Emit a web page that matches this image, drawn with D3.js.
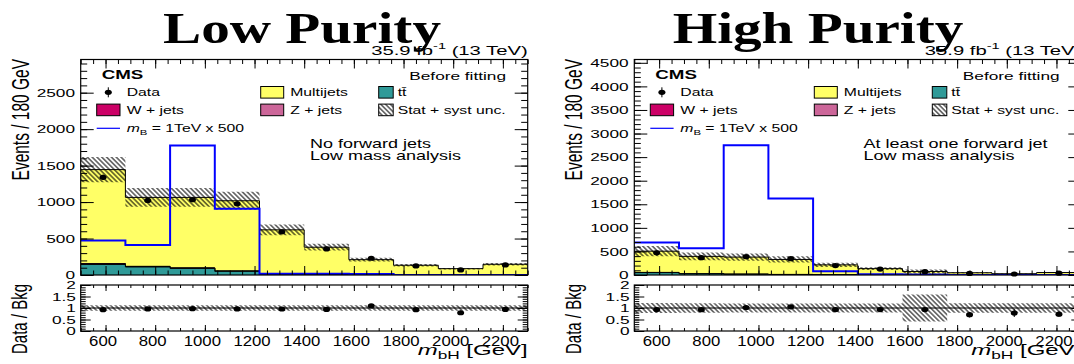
<!DOCTYPE html>
<html>
<head>
<meta charset="utf-8">
<script src="https://cdn.jsdelivr.net/npm/d3@7"></script>
<style>
  html, body { margin: 0; padding: 0; background: #fff; }
  svg { display: block; }
  text { font-family: "Liberation Sans", Arial, Helvetica, sans-serif; fill: #000; }
</style>
</head>
<body>
<svg id="chart" width="1074" height="364"></svg>
<script>
// ---- binning (m_bH, GeV) ----
const binEdges = [500, 680, 860, 1040, 1220, 1400, 1580, 1760, 1940, 2120, 2300];
const xTickValues = [600, 800, 1000, 1200, 1400, 1600, 1800, 2000, 2200];
const ratioTickValues = [0, 0.5, 1, 1.5, 2];

// ---- Low purity: no forward jets ----
const lpData      = [1339, 1023, 1032, 977, 592, 358, 230, 124, 69, 138];
const lpMultijets = [1288, 945, 966, 962, 602, 372, 205, 130, 85, 145];
const lpTtbar     = [145, 110, 90, 50, 12, 6, 3, 2, 1, 1];
const lpWjets     = [8, 6, 5, 4, 3, 2, 1, 1, 0.5, 0.5];
const lpZjets     = [4, 3, 3, 2, 2, 1, 1, 0.5, 0.5, 0.5];
const lpUnc       = [173, 128, 128, 122, 74, 46, 25, 16, 10, 18];
const lpSignal    = [472, 413, 1775, 908, 18, 16, 14, 1, 1, 1];
const lpYTicks    = [0, 500, 1000, 1500, 2000, 2500];

// ---- High purity: at least one forward jet ----
const hpData      = [470, 367, 388, 347, 200, 126, 70, 34, 21, 38];
const hpMultijets = [450, 367, 362, 318, 208.5, 130.5, 72.2, 46.2, 25.5, 50.5];
const hpTtbar     = [50, 25, 15, 10, 5, 3, 2, 1, 1, 1];
const hpWjets     = [3, 2, 2, 1, 1, 1, 0.5, 0.5, 0.3, 0.3];
const hpZjets     = [2, 1, 1, 1, 0.5, 0.5, 0.3, 0.3, 0.2, 0.2];
const hpUnc       = [110, 80, 76, 66, 43, 27, 44, 10, 5.5, 10.5];
const hpSignal    = [688, 567, 2752, 1624, 78, 15, 8, 1, 1, 1];
const hpYTicks    = [0, 500, 1000, 1500, 2000, 2500, 3000, 3500, 4000, 4500];

// ---- layout ----
const PLOT_W = 447;
const MAIN_TOP = 59.5, MAIN_BOTTOM = 275;
const RATIO_TOP = 285, RATIO_BOTTOM = 331;
const SX = 1.5;   // horizontal text stretch

const COLORS = {
  multijets: "#ffff66",
  ttbar: "#2f9a98",
  wjets: "#cc0066",
  zjets: "#cc6699",
  signal: "#0000ff"
};

const svg = d3.select("#chart");
const defs = svg.append("defs");
const hatch = defs.append("pattern")
  .attr("id", "hatch")
  .attr("patternUnits", "userSpaceOnUse")
  .attr("width", 3.4).attr("height", 3.4)
  .attr("patternTransform", "rotate(-45)");
hatch.append("line")
  .attr("x1", 1.7).attr("y1", 0).attr("x2", 1.7).attr("y2", 3.4)
  .attr("stroke", "#000").attr("stroke-width", 1);

// text with a horizontal stretch; parts may carry italic / sub / sup
function txt(g, x, y, parts, o) {
  const size = o.size;
  const sx = o.sx !== undefined ? o.sx : SX;
  const t = g.append("text")
    .attr("transform", `translate(${x},${y}) scale(${sx},1)` + (o.rot ? ` rotate(${o.rot})` : ""))
    .attr("text-anchor", o.anchor || "start")
    .style("font-size", size + "px");
  if (o.family) t.style("font-family", o.family);
  if (o.bold) t.style("font-weight", "bold");
  if (typeof parts === "string") parts = [{ t: parts }];
  let shift = 0;
  parts.forEach(p => {
    const s = t.append("tspan").text(p.t);
    const target = p.sub ? 0.28 * size : p.sup ? -0.42 * size : 0;
    if (target !== shift) { s.attr("dy", target - shift); shift = target; }
    if (p.sub || p.sup) s.style("font-size", (size * 0.72) + "px");
    if (p.italic) s.style("font-style", "italic");
  });
  return t;
}

function styleAxis(sel) {
  sel.select(".domain").remove();
  sel.attr("font-size", null).attr("font-family", null);
  sel.selectAll(".tick line").attr("stroke", "#000").attr("stroke-width", 1);
}

function drawPanel(p) {
  const g = svg.append("g");
  const X0 = p.left, X1 = p.left + PLOT_W;
  const nb = binEdges.length - 1;
  const x = d3.scaleLinear().domain([binEdges[0], binEdges[nb]]).range([X0, X1]);
  const y = d3.scaleLinear().domain([0, p.ymax]).range([MAIN_BOTTOM, MAIN_TOP]);
  const yr = d3.scaleLinear().domain([0, 2]).range([RATIO_BOTTOM, RATIO_TOP]);
  const centers = d3.range(nb).map(i => (binEdges[i] + binEdges[i + 1]) / 2);

  const clipId = "clip-" + p.key;
  defs.append("clipPath").attr("id", clipId).append("rect")
    .attr("x", X0).attr("y", MAIN_TOP).attr("width", PLOT_W).attr("height", MAIN_BOTTOM - MAIN_TOP);
  const rclipId = "rclip-" + p.key;
  defs.append("clipPath").attr("id", rclipId).append("rect")
    .attr("x", X0).attr("y", RATIO_TOP).attr("width", PLOT_W).attr("height", RATIO_BOTTOM - RATIO_TOP);

  const steps = vals => binEdges.map((e, i) => [e, vals[Math.min(i, nb - 1)]]);

  // ---- stacked backgrounds (bottom to top: ttbar, W, Z, multijets) ----
  const layers = [
    { vals: p.ttbar, color: COLORS.ttbar },
    { vals: p.wjets, color: COLORS.wjets },
    { vals: p.zjets, color: COLORS.zjets },
    { vals: p.multijets, color: COLORS.multijets }
  ];
  let cum = new Array(nb).fill(0);
  layers.forEach(l => { cum = cum.map((c, i) => c + l.vals[i]); l.cum = cum.slice(); });
  const total = cum;

  const plot = g.append("g").attr("clip-path", `url(#${clipId})`);
  const area = d3.area().curve(d3.curveStepAfter)
    .x(d => x(d[0])).y0(y(0)).y1(d => y(d[1]));
  const line = d3.line().curve(d3.curveStepAfter)
    .x(d => x(d[0])).y(d => y(d[1]));

  layers.slice().reverse().forEach(l => {
    plot.append("path").attr("d", area(steps(l.cum))).attr("fill", l.color);
    plot.append("path").attr("d", line(steps(l.cum)))
      .attr("fill", "none").attr("stroke", "#000").attr("stroke-width", 1);
  });

  // ---- stat + syst uncertainty band ----
  const band = d3.area().curve(d3.curveStepAfter)
    .x(d => x(d[0])).y0(d => y(d[1] - d[2])).y1(d => y(d[1] + d[2]));
  const bandPts = binEdges.map((e, i) => { const k = Math.min(i, nb - 1); return [e, total[k], p.unc[k]]; });
  plot.append("path").attr("d", band(bandPts)).attr("fill", "url(#hatch)");

  // ---- signal ----
  plot.append("path").attr("d", line(steps(p.signal)))
    .attr("fill", "none").attr("stroke", COLORS.signal).attr("stroke-width", 2);

  // ---- data ----
  const dg = g.append("g");
  p.data.forEach((v, i) => {
    const cx = x(centers[i]), e = Math.sqrt(v);
    dg.append("line").attr("x1", cx).attr("x2", cx).attr("y1", y(v - e)).attr("y2", y(v + e))
      .attr("stroke", "#000").attr("stroke-width", 1);
    dg.append("ellipse").attr("cx", cx).attr("cy", y(v)).attr("rx", 3.5).attr("ry", 2.6).attr("fill", "#000");
  });

  // ---- ratio panel ----
  const rg = g.append("g");
  const rplot = rg.append("g").attr("clip-path", `url(#${rclipId})`);
  const rband = d3.area().curve(d3.curveStepAfter)
    .x(d => x(d[0])).y0(d => yr(1 - d[2] / d[1])).y1(d => yr(1 + d[2] / d[1]));
  rplot.append("path").attr("d", rband(bandPts)).attr("fill", "url(#hatch)");
  rplot.append("line").attr("x1", X0).attr("x2", X1).attr("y1", yr(1)).attr("y2", yr(1))
    .attr("stroke", "#000").attr("stroke-width", 1);
  p.data.forEach((v, i) => {
    const cx = x(centers[i]);
    const r = v / total[i], e = Math.sqrt(v) / total[i];
    rplot.append("line").attr("x1", cx).attr("x2", cx).attr("y1", yr(r - e)).attr("y2", yr(r + e))
      .attr("stroke", "#000").attr("stroke-width", 1);
    rplot.append("ellipse").attr("cx", cx).attr("cy", yr(r)).attr("rx", 3.5).attr("ry", 2.6).attr("fill", "#000");
  });

  // ---- axes (ticks drawn inward on all four sides) ----
  const xMinor = d3.range(binEdges[0], binEdges[nb] + 1, 50);
  const yMinor = d3.range(0, p.ymax, 100);
  const rMinor = d3.range(0, 2.001, 0.1).map(v => +v.toFixed(2));
  const ax = g.append("g");

  const addAxis = (axis, tx, ty) => ax.append("g").attr("transform", `translate(${tx},${ty})`).call(axis).call(styleAxis);

  // main y
  addAxis(d3.axisLeft(y).tickValues(yMinor).tickSize(-6.5).tickSizeOuter(0).tickFormat(""), X0, 0);
  const yl = addAxis(d3.axisLeft(y).tickValues(p.yTicks).tickSize(-13).tickSizeOuter(0).tickPadding(3.8).tickFormat(d3.format("d")), X0, 0);
  yl.selectAll("text").attr("transform", `scale(${SX},1)`).style("font-size", "11.5px");
  addAxis(d3.axisRight(y).tickValues(yMinor).tickSize(-6.5).tickSizeOuter(0).tickFormat(""), X1, 0);
  addAxis(d3.axisRight(y).tickValues(p.yTicks).tickSize(-13).tickSizeOuter(0).tickFormat(""), X1, 0);
  // main x
  addAxis(d3.axisTop(x).tickValues(xMinor).tickSize(-4.5).tickSizeOuter(0).tickFormat(""), 0, MAIN_TOP);
  addAxis(d3.axisTop(x).tickValues(xTickValues).tickSize(-9).tickSizeOuter(0).tickFormat(""), 0, MAIN_TOP);
  addAxis(d3.axisBottom(x).tickValues(xMinor).tickSize(-4.5).tickSizeOuter(0).tickFormat(""), 0, MAIN_BOTTOM);
  addAxis(d3.axisBottom(x).tickValues(xTickValues).tickSize(-9).tickSizeOuter(0).tickFormat(""), 0, MAIN_BOTTOM);
  // ratio y
  addAxis(d3.axisLeft(yr).tickValues(rMinor).tickSize(-5).tickSizeOuter(0).tickFormat(""), X0, 0);
  const ryl = addAxis(d3.axisLeft(yr).tickValues(ratioTickValues).tickSize(-10).tickSizeOuter(0).tickPadding(3.2).tickFormat(d => String(d)), X0, 0);
  ryl.selectAll("text").attr("transform", `scale(${SX},1)`).style("font-size", "11.5px");
  addAxis(d3.axisRight(yr).tickValues(rMinor).tickSize(-5).tickSizeOuter(0).tickFormat(""), X1, 0);
  addAxis(d3.axisRight(yr).tickValues(ratioTickValues).tickSize(-10).tickSizeOuter(0).tickFormat(""), X1, 0);
  // ratio x
  addAxis(d3.axisTop(x).tickValues(xMinor).tickSize(-3).tickSizeOuter(0).tickFormat(""), 0, RATIO_TOP);
  addAxis(d3.axisTop(x).tickValues(xTickValues).tickSize(-6).tickSizeOuter(0).tickFormat(""), 0, RATIO_TOP);
  addAxis(d3.axisBottom(x).tickValues(xMinor).tickSize(-3).tickSizeOuter(0).tickFormat(""), 0, RATIO_BOTTOM);
  const rxl = addAxis(d3.axisBottom(x).tickValues(xTickValues).tickSize(-6).tickSizeOuter(0).tickPadding(3.5).tickFormat(d3.format("d")), 0, RATIO_BOTTOM);
  rxl.selectAll("text").attr("transform", "translate(-3,0) scale(1.08,1)").style("font-size", "15.5px");

  // frames
  g.append("rect").attr("x", X0).attr("y", MAIN_TOP).attr("width", PLOT_W).attr("height", MAIN_BOTTOM - MAIN_TOP)
    .attr("fill", "none").attr("stroke", "#000").attr("stroke-width", 1.2);
  g.append("rect").attr("x", X0).attr("y", RATIO_TOP).attr("width", PLOT_W).attr("height", RATIO_BOTTOM - RATIO_TOP)
    .attr("fill", "none").attr("stroke", "#000").attr("stroke-width", 1.2);

  // ---- axis titles ----
  txt(g, X0 - 52.2, MAIN_TOP - 0.5, "Events / 180 GeV", { size: 15.5, anchor: "end", rot: -90 });
  txt(g, X0 - 53.7, RATIO_TOP - 1, "Data / Bkg", { size: 15, anchor: "end", rot: -90 });
  txt(g, X1, 355, [{ t: "m", italic: true }, { t: "bH", sub: true }, { t: " [GeV]" }], { size: 15, anchor: "end", sx: 1.6 });

  // ---- titles and labels ----
  txt(g, p.titleX, 43, p.title, { size: 44, anchor: "middle", bold: true, sx: 1.3, family: "'Liberation Serif', 'Times New Roman', serif" });
  txt(g, X1, 55, [{ t: "35.9 fb" }, { t: "-1", sup: true }, { t: "  (13 TeV)" }], { size: 13.5, anchor: "end", sx: 1.5 });
  txt(g, X0 + 21, 79.3, "CMS", { size: 12.5, bold: true });
  txt(g, X1 - 21.7, 79.5, "Before fitting", { size: 11.5, anchor: "end" });
  p.notes.forEach((n, i) => txt(g, X0 + 229.3, 147.5 + i * 12, n, { size: 12 }));

  // ---- legend ----
  const lg = g.append("g");
  const FS = 10.5;
  const rowY = [92.3, 109.9, 128.3];
  const col1 = X0 + 16, col2 = X0 + 180, col3 = X0 + 298;
  const box = (bx, cy, w, fill) => lg.append("rect").attr("x", bx).attr("y", cy - 5.8).attr("width", w).attr("height", 11.6)
    .attr("fill", fill).attr("stroke", "#000").attr("stroke-width", 1);
  // Data
  const mx = col1 + 11.6;
  lg.append("line").attr("x1", mx).attr("x2", mx).attr("y1", rowY[0] - 5).attr("y2", rowY[0] + 5).attr("stroke", "#000");
  lg.append("ellipse").attr("cx", mx).attr("cy", rowY[0]).attr("rx", 3.5).attr("ry", 2.6).attr("fill", "#000");
  txt(lg, col1 + 30, rowY[0] + 3.8, "Data", { size: FS });
  // W + jets
  box(col1, rowY[1], 23.3, COLORS.wjets);
  txt(lg, col1 + 30, rowY[1] + 3.8, "W + jets", { size: FS });
  // signal
  lg.append("line").attr("x1", col1).attr("x2", col1 + 23.3).attr("y1", rowY[2]).attr("y2", rowY[2])
    .attr("stroke", COLORS.signal).attr("stroke-width", 1.2);
  txt(lg, col1 + 30, rowY[2] + 3.8, [{ t: "m", italic: true }, { t: "B", sub: true }, { t: " = 1TeV x 500" }], { size: FS });
  // Multijets, Z + jets
  box(col2, rowY[0], 23, COLORS.multijets);
  txt(lg, col2 + 29.5, rowY[0] + 3.8, "Multijets", { size: FS });
  box(col2, rowY[1], 23, COLORS.zjets);
  txt(lg, col2 + 29.5, rowY[1] + 3.8, "Z + jets", { size: FS });
  // ttbar, uncertainty
  box(col3, rowY[0], 14.5, COLORS.ttbar);
  txt(lg, col3 + 19, rowY[0] + 3.8, "tt\u0304", { size: FS });
  box(col3, rowY[1], 14.5, "url(#hatch)");
  txt(lg, col3 + 19, rowY[1] + 3.8, "Stat + syst unc.", { size: FS });
}

drawPanel({
  key: "lp", left: 80.7, ymax: 2955, titleX: 302, title: "Low Purity",
  yTicks: lpYTicks, data: lpData, multijets: lpMultijets, ttbar: lpTtbar,
  wjets: lpWjets, zjets: lpZjets, unc: lpUnc, signal: lpSignal,
  notes: ["No forward jets", "Low mass analysis"]
});
drawPanel({
  key: "hp", left: 634.3, ymax: 4570, titleX: 818, title: "High Purity",
  yTicks: hpYTicks, data: hpData, multijets: hpMultijets, ttbar: hpTtbar,
  wjets: hpWjets, zjets: hpZjets, unc: hpUnc, signal: hpSignal,
  notes: ["At least one forward jet", "Low mass analysis"]
});
</script>
</body>
</html>
